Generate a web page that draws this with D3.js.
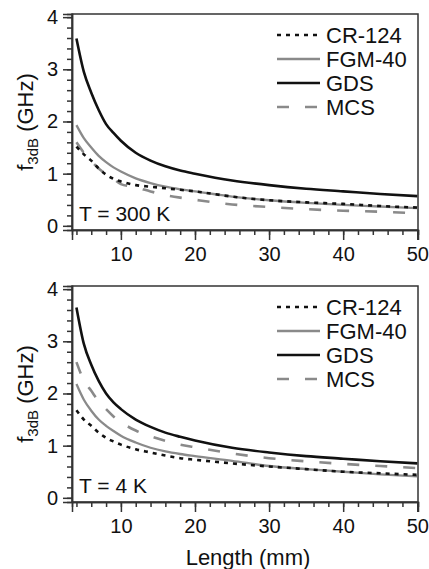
<html lang="en">
<head>
<script src="https://d3js.org/d3.v7.min.js"></script>
<style>
  body { margin: 0; background: #fff; }
  svg text { font-family: 'Liberation Sans', Arial, sans-serif; fill: #111; }
</style>
</head>
<body>
<script>
// data
var lengths = [4, 5, 6, 7, 8, 9, 10, 12, 14, 16, 18, 20, 25, 30, 35, 40, 45, 50];

// T = 300 K
var cr124_300K = [1.52, 1.37, 1.25, 1.10, 0.98, 0.90, 0.85, 0.78, 0.75, 0.72, 0.69, 0.66, 0.56, 0.49, 0.45, 0.42, 0.38, 0.35];
var fgm40_300K = [1.93, 1.68, 1.50, 1.34, 1.22, 1.12, 1.04, 0.91, 0.82, 0.75, 0.70, 0.66, 0.56, 0.49, 0.44, 0.40, 0.37, 0.34];
var gds_300K   = [3.59, 2.95, 2.55, 2.22, 1.95, 1.78, 1.63, 1.40, 1.25, 1.14, 1.06, 1.00, 0.87, 0.78, 0.71, 0.66, 0.61, 0.57];
var mcs_300K   = [1.60, 1.40, 1.24, 1.10, 0.99, 0.90, 0.80, 0.74, 0.66, 0.59, 0.54, 0.50, 0.41, 0.36, 0.32, 0.29, 0.27, 0.24];

// T = 4 K
var cr124_4K = [1.68, 1.50, 1.38, 1.25, 1.15, 1.08, 1.02, 0.93, 0.87, 0.81, 0.76, 0.73, 0.66, 0.60, 0.55, 0.50, 0.47, 0.44];
var fgm40_4K = [2.18, 1.88, 1.67, 1.50, 1.38, 1.28, 1.19, 1.06, 0.96, 0.89, 0.84, 0.80, 0.71, 0.61, 0.55, 0.50, 0.45, 0.41];
var gds_4K   = [3.65, 2.95, 2.55, 2.24, 2.00, 1.83, 1.70, 1.50, 1.36, 1.25, 1.17, 1.10, 0.96, 0.87, 0.80, 0.75, 0.70, 0.66];
var mcs_4K   = [2.60, 2.25, 2.05, 1.85, 1.70, 1.56, 1.45, 1.29, 1.18, 1.09, 1.02, 0.97, 0.85, 0.76, 0.70, 0.65, 0.61, 0.57];

var seriesNames = ["CR-124", "FGM-40", "GDS", "MCS"];
var panelLabels = ["T = 300 K", "T = 4 K"];
var xTicks = [10, 20, 30, 40, 50];
var yTicks = [0, 1, 2, 3, 4];

var width = 429, height = 569;
var font = "'Liberation Sans', Arial, sans-serif";

var styles = {
  "CR-124": { color: "#111", width: 2.6, dash: "4,5" },
  "FGM-40": { color: "#8a8a8a", width: 2.3, dash: null },
  "GDS":    { color: "#111", width: 2.6, dash: null },
  "MCS":    { color: "#8a8a8a", width: 2.6, dash: "12,16" }
};

var panels = [
  { top: 14, label: panelLabels[0], series: [cr124_300K, fgm40_300K, gds_300K, mcs_300K] },
  { top: 286, label: panelLabels[1], series: [cr124_4K, fgm40_4K, gds_4K, mcs_4K] }
];

var svg = d3.select("body").append("svg")
  .attr("width", width)
  .attr("height", height)
  .attr("font-family", font);

var left = 72, right = 418, plotH = 216;

var x = d3.scaleLinear().domain([3.4, 50.1]).range([left, right]);

panels.forEach(function(p, pi) {
  var y = d3.scaleLinear().domain([-0.08, 4.06]).range([p.top + plotH, p.top]);
  var g = svg.append("g");

  // frame
  g.append("rect")
    .attr("x", left).attr("y", p.top)
    .attr("width", right - left).attr("height", plotH)
    .attr("fill", "none").attr("stroke", "#333").attr("stroke-width", 1.5);

  // y axis: major + minor ticks
  var yAxis = d3.axisLeft(y).tickValues(yTicks).tickSize(9).tickPadding(5).tickFormat(d3.format("d"));
  var yMinor = d3.axisLeft(y).tickValues(d3.range(0, 4.01, 0.2)).tickSize(5).tickFormat("");
  g.append("g").attr("transform", "translate(" + left + ",0)").call(yAxis);
  g.append("g").attr("transform", "translate(" + left + ",0)").call(yMinor);

  // x axis
  var xAxis = d3.axisBottom(x).tickValues(xTicks).tickSize(10).tickPadding(7).tickFormat(d3.format("d"));
  var xMinor = d3.axisBottom(x).tickValues(d3.range(4, 50.1, 2)).tickSize(5).tickFormat("");
  g.append("g").attr("transform", "translate(0," + (p.top + plotH) + ")").call(xAxis);
  g.append("g").attr("transform", "translate(0," + (p.top + plotH) + ")").call(xMinor);

  g.selectAll("g").attr("font-family", font);
  g.selectAll(".domain").attr("stroke", "#333").attr("stroke-width", 1.5);
  g.selectAll(".tick line").attr("stroke", "#333").attr("stroke-width", 1.5);
  g.selectAll(".tick text").attr("font-size", "20px").attr("fill", "#111");

  // curves
  var line = d3.line()
    .x(function(d) { return x(d[0]); })
    .y(function(d) { return y(d[1]); })
    .curve(d3.curveMonotoneX);

  var order = [1, 3, 0, 2];
  order.forEach(function(si) {
    var name = seriesNames[si], st = styles[name];
    var pts = lengths.map(function(L, i) { return [L, p.series[si][i]]; });
    g.append("path")
      .attr("d", line(pts))
      .attr("fill", "none")
      .attr("stroke", st.color)
      .attr("stroke-width", st.width)
      .attr("stroke-dasharray", st.dash);
  });

  // legend
  seriesNames.forEach(function(name, i) {
    var st = styles[name];
    var ly = p.top + 21 + i * 24;
    g.append("line")
      .attr("x1", 277).attr("x2", 320)
      .attr("y1", ly).attr("y2", ly)
      .attr("stroke", st.color)
      .attr("stroke-width", st.width)
      .attr("stroke-dasharray", st.dash);
    g.append("text")
      .attr("x", 326).attr("y", ly + 8)
      .attr("font-size", "22px")
      .text(name);
  });

  // panel label
  g.append("text")
    .attr("x", 79).attr("y", p.top + 207)
    .attr("font-size", "21px")
    .text(p.label);

  // y axis title
  var yt = g.append("text")
    .attr("transform", "translate(33," + (p.top + 108) + ") rotate(-90)")
    .attr("text-anchor", "middle")
    .attr("font-size", "22px");
  yt.append("tspan").text("f");
  yt.append("tspan").attr("font-size", "15px").attr("dy", 5).text("3dB");
  yt.append("tspan").attr("dy", -5).text(" (GHz)");
});

svg.append("text")
  .attr("x", (left + right) / 2 + 3).attr("y", 565)
  .attr("text-anchor", "middle")
  .attr("font-size", "22px")
  .text("Length (mm)");
</script>
</body>
</html>
